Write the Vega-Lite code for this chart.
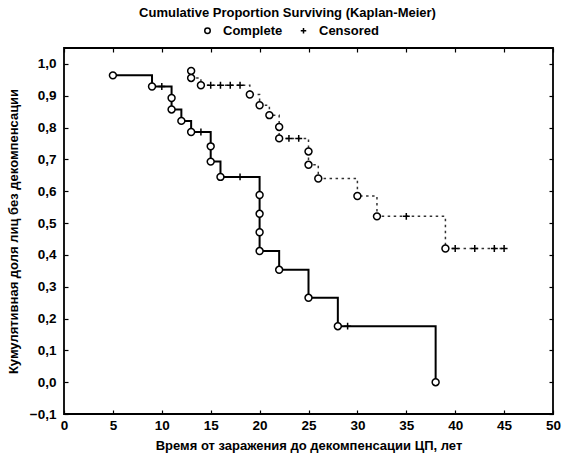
{
  "$schema": "https://vega.github.io/schema/vega-lite/v6.json",
  "width": 489,
  "height": 366,
  "autosize": {"type": "none"},
  "padding": {"left": 64, "top": 48, "right": 25, "bottom": 43},
  "background": "white",
  "config": {
    "view": {"stroke": "#000", "strokeWidth": 1.8},
    "font": "Liberation Sans",
    "axis": {"domain": false, "grid": false, "tickColor": "#000", "tickWidth": 1.2, "tickSize": -4, "labelFont": "Liberation Sans", "labelFontSize": 13.5, "labelFontWeight": "bold", "labelColor": "#000", "titleFont": "Liberation Sans", "titleFontSize": 13, "titleFontWeight": "bold", "titleColor": "#000"}
  },
  "title": {"text": "Cumulative Proportion Surviving (Kaplan-Meier)", "fontSize": 13, "fontWeight": "bold", "font": "Liberation Sans", "color": "#000", "anchor": "middle", "dx": -21, "offset": 4},
  "data": {"values": [
    {"g": "A", "i": 1, "t": 5, "s": 0.964, "status": "Complete"},
    {"g": "A", "i": 2, "t": 9, "s": 0.929, "status": "Complete"},
    {"g": "A", "i": 3, "t": 10, "s": 0.929, "status": "Censored"},
    {"g": "A", "i": 4, "t": 11, "s": 0.893, "status": "Complete"},
    {"g": "A", "i": 5, "t": 11, "s": 0.857, "status": "Complete"},
    {"g": "A", "i": 6, "t": 12, "s": 0.821, "status": "Complete"},
    {"g": "A", "i": 7, "t": 13, "s": 0.786, "status": "Complete"},
    {"g": "A", "i": 8, "t": 14, "s": 0.786, "status": "Censored"},
    {"g": "A", "i": 9, "t": 15, "s": 0.741, "status": "Complete"},
    {"g": "A", "i": 10, "t": 15, "s": 0.693, "status": "Complete"},
    {"g": "A", "i": 11, "t": 16, "s": 0.645, "status": "Complete"},
    {"g": "A", "i": 12, "t": 18, "s": 0.645, "status": "Censored"},
    {"g": "A", "i": 13, "t": 20, "s": 0.588, "status": "Complete"},
    {"g": "A", "i": 14, "t": 20, "s": 0.529, "status": "Complete"},
    {"g": "A", "i": 15, "t": 20, "s": 0.471, "status": "Complete"},
    {"g": "A", "i": 16, "t": 20, "s": 0.412, "status": "Complete"},
    {"g": "A", "i": 17, "t": 22, "s": 0.353, "status": "Complete"},
    {"g": "A", "i": 18, "t": 25, "s": 0.265, "status": "Complete"},
    {"g": "A", "i": 19, "t": 28, "s": 0.176, "status": "Complete"},
    {"g": "A", "i": 20, "t": 29, "s": 0.176, "status": "Censored"},
    {"g": "A", "i": 21, "t": 38, "s": 0.0, "status": "Complete"},
    {"g": "B", "i": 1, "t": 13, "s": 0.978, "status": "Complete"},
    {"g": "B", "i": 2, "t": 13, "s": 0.956, "status": "Complete"},
    {"g": "B", "i": 3, "t": 14, "s": 0.933, "status": "Complete"},
    {"g": "B", "i": 4, "t": 15, "s": 0.933, "status": "Censored"},
    {"g": "B", "i": 5, "t": 16, "s": 0.933, "status": "Censored"},
    {"g": "B", "i": 6, "t": 17, "s": 0.933, "status": "Censored"},
    {"g": "B", "i": 7, "t": 18, "s": 0.933, "status": "Censored"},
    {"g": "B", "i": 8, "t": 19, "s": 0.904, "status": "Complete"},
    {"g": "B", "i": 9, "t": 20, "s": 0.870, "status": "Complete"},
    {"g": "B", "i": 10, "t": 21, "s": 0.839, "status": "Complete"},
    {"g": "B", "i": 11, "t": 22, "s": 0.802, "status": "Complete"},
    {"g": "B", "i": 12, "t": 22, "s": 0.766, "status": "Complete"},
    {"g": "B", "i": 13, "t": 23, "s": 0.766, "status": "Censored"},
    {"g": "B", "i": 14, "t": 24, "s": 0.766, "status": "Censored"},
    {"g": "B", "i": 15, "t": 25, "s": 0.725, "status": "Complete"},
    {"g": "B", "i": 16, "t": 25, "s": 0.683, "status": "Complete"},
    {"g": "B", "i": 17, "t": 26, "s": 0.640, "status": "Complete"},
    {"g": "B", "i": 18, "t": 30, "s": 0.585, "status": "Complete"},
    {"g": "B", "i": 19, "t": 32, "s": 0.521, "status": "Complete"},
    {"g": "B", "i": 20, "t": 35, "s": 0.521, "status": "Censored"},
    {"g": "B", "i": 21, "t": 39, "s": 0.420, "status": "Complete"},
    {"g": "B", "i": 22, "t": 40, "s": 0.420, "status": "Censored"},
    {"g": "B", "i": 23, "t": 42, "s": 0.420, "status": "Censored"},
    {"g": "B", "i": 24, "t": 44, "s": 0.420, "status": "Censored"},
    {"g": "B", "i": 25, "t": 45, "s": 0.420, "status": "Censored"}
  ]},
  "resolve": {"axis": {"x": "independent", "y": "independent"}},
  "layer": [
    {
      "transform": [{"filter": "datum.g === 'A'"}],
      "mark": {"type": "line", "interpolate": "step-after", "color": "#000", "strokeWidth": 2},
      "encoding": {
        "x": {"field": "t", "type": "quantitative", "scale": {"domain": [0, 50], "nice": false, "zero": false},
          "axis": {"orient": "bottom", "values": [0, 5, 10, 15, 20, 25, 30, 35, 40, 45, 50], "labelPadding": 8, "title": "Время от заражения до декомпенсации ЦП, лет", "titlePadding": 8, "labelFlush": false}},
        "y": {"field": "s", "type": "quantitative", "scale": {"domain": [-0.1, 1.05], "nice": false, "zero": false},
          "axis": {"orient": "left", "values": [-0.1, 0, 0.1, 0.2, 0.3, 0.4, 0.5, 0.6, 0.7, 0.8, 0.9, 1.0], "labelPadding": 12, "labelExpr": "replace(format(datum.value, '.1f'), '.', ',')", "title": "Кумулятивная доля лиц без декомпенсации", "titlePadding": 9, "labelFlush": false}},
        "order": {"field": "i", "type": "quantitative"}
      }
    },
    {
      "transform": [{"filter": "datum.g === 'B'"}],
      "mark": {"type": "line", "interpolate": "step-after", "color": "#333", "strokeWidth": 1.5, "strokeDash": [2.5, 3.5]},
      "encoding": {
        "x": {"field": "t", "type": "quantitative", "axis": {"orient": "top", "values": [0, 5, 10, 15, 20, 25, 30, 35, 40, 45, 50], "labels": false, "title": null}},
        "y": {"field": "s", "type": "quantitative", "axis": {"orient": "right", "values": [-0.1, 0, 0.1, 0.2, 0.3, 0.4, 0.5, 0.6, 0.7, 0.8, 0.9, 1.0], "labels": false, "title": null}},
        "order": {"field": "i", "type": "quantitative"}
      }
    },
    {
      "mark": {"type": "point", "filled": true, "stroke": "#000", "strokeWidth": 1.5, "size": 48, "opacity": 1},
      "encoding": {
        "x": {"field": "t", "type": "quantitative", "axis": null},
        "y": {"field": "s", "type": "quantitative", "axis": null},
        "shape": {"field": "status", "type": "nominal", "scale": {"domain": ["Complete", "Censored"], "range": ["circle", "M-1,0H1M0,-1V1"]},
          "legend": {"title": null, "orient": "none", "direction": "horizontal", "legendX": 137, "legendY": -24, "labelFontSize": 13, "labelFontWeight": "bold", "labelFont": "Liberation Sans", "labelColor": "#000", "symbolStrokeColor": "#000", "symbolFillColor": "#fff", "symbolStrokeWidth": 1.5, "symbolSize": 30, "symbolOpacity": 1, "columnPadding": 14, "labelOffset": 9}},
        "fill": {"field": "status", "type": "nominal", "scale": {"domain": ["Complete", "Censored"], "range": ["#fff", "#000"]}, "legend": null}
      }
    }
  ]
}
